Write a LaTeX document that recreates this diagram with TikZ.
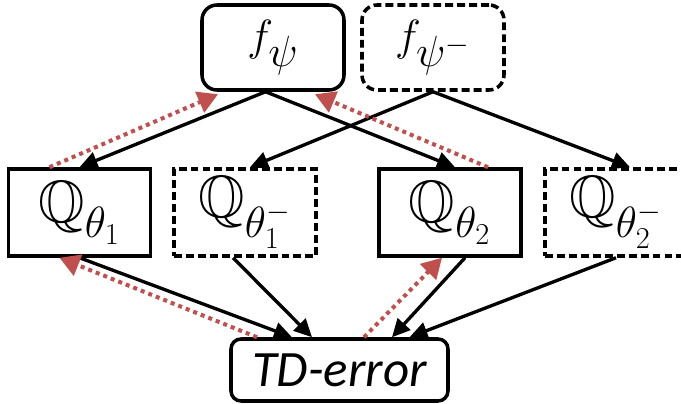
\documentclass[tikz,border=0pt]{standalone}
\usepackage{amssymb}
\usepackage{fontspec}
\newfontfamily\tdfont{Carlito}
\usetikzlibrary{arrows.meta}
\definecolor{gradred}{HTML}{C0504D}

\begin{document}
\begin{tikzpicture}[transform shape, scale=1.0,thick]
\tikzset{netbox/.style={draw, line width=2pt, minimum width=2.84cm, minimum height=1.74cm, inner sep=0pt,
font=\fontsize{34}{40}\selectfont},
targetbox/.style={netbox, dash pattern=on 4.5pt off 2.3pt},
fwd/.style={line width=1.9pt, -{Triangle[length=0.36cm, width=0.34cm]}},
grad/.style={line width=2.3pt, color=gradred, dash pattern=on 2.3pt off 2.3pt,
-{Triangle[length=0.4cm, width=0.44cm]}},
}
\useasboundingbox (0,0) rectangle (13.62,8.08);

\node[netbox, rounded corners=0.3cm, minimum height=1.7cm] (fpsi) at (5.46,7.13) {$f_\psi$};
\node[targetbox, rounded corners=0.3cm, minimum height=1.7cm] (fpsim) at (8.66,7.13) {$f_{\psi^-}$};
\node[netbox] (q1) at (1.59,3.83) {$\mathbb{Q}_{\theta_1}$};
\node[targetbox] (q1m) at (4.90,3.83) {$\mathbb{Q}_{\theta_1^-}$};
\node[netbox] (q2) at (9.00,3.83) {$\mathbb{Q}_{\theta_2}$};
\node[targetbox] (q2m) at (12.32,3.83) {$\mathbb{Q}_{\theta_2^-}$};
\node[netbox, rounded corners=0.2cm, minimum width=4.34cm, minimum height=1.24cm,
font=\tdfont\itshape\fontsize{29}{34}\selectfont] (td) at (6.79,0.68) {TD-error};

\draw[fwd] ([xshift=-1.5mm]fpsi.south) -- (q1.north);
\draw[fwd] ([xshift=-1.5mm]fpsi.south) -- ([xshift=1mm]q2.north);
\draw[fwd] (fpsim.south) -- ([xshift=1mm]q1m.north);
\draw[fwd] (fpsim.south) -- ([xshift=2.8mm]q2m.north);
\draw[fwd] (q1.south) -- ([xshift=-9.5mm]td.north);
\draw[fwd] ([xshift=-2.4mm]q1m.south) -- ([xshift=-5.5mm]td.north);
\draw[fwd] ([xshift=3mm]q2.south) -- ([xshift=10.5mm]td.north);
\draw[fwd] (q2m.south) -- ([xshift=14mm]td.north);

\draw[grad] ([xshift=-6mm]q1.north) -- ([xshift=-11mm,yshift=-0.5mm]fpsi.south);
\draw[grad] ([xshift=7.6mm]q2.north) -- ([xshift=8.4mm,yshift=-0.5mm]fpsi.south);
\draw[grad] ([xshift=-16.5mm]td.north) -- ([xshift=-4mm]q1.south);
\draw[grad] ([xshift=4.9mm]td.north) -- ([xshift=-1.6mm]q2.south);
\end{tikzpicture}
\end{document}
